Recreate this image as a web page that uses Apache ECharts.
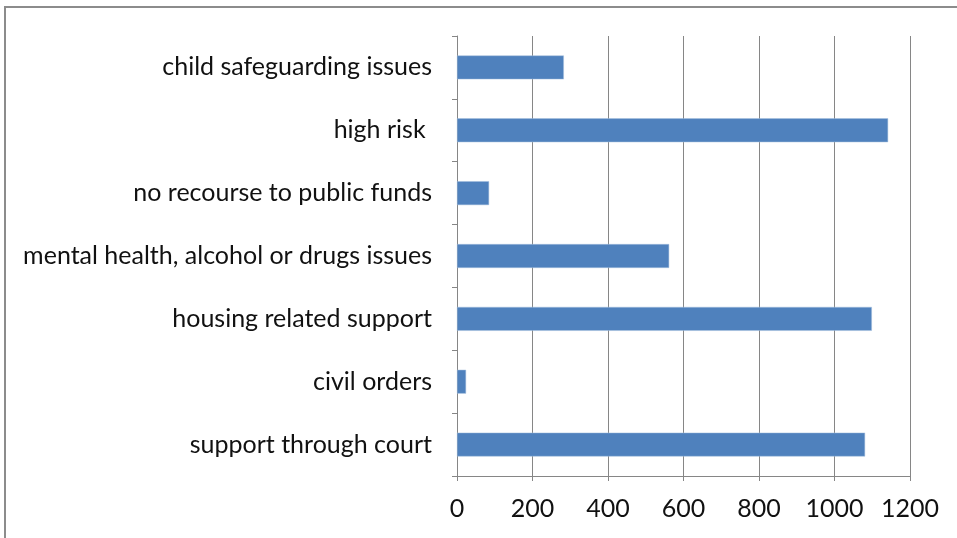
<!DOCTYPE html>
<html>
<head>
<meta charset="utf-8">
<script src="https://cdn.jsdelivr.net/npm/echarts@6/dist/echarts.min.js"></script>
<style>
html,body{margin:0;padding:0;background:#fff;}
#chart{width:957px;height:538px;}
</style>
</head>
<body>
<div id="chart"></div>
<script>
// bottom-to-top order (ECharts category axis on y starts at bottom)
var categories = [
  "support through court",
  "civil orders",
  "housing related support",
  "mental health, alcohol or drugs issues",
  "no recourse to public funds",
  "high risk ",
  "child safeguarding issues"
];
var values = [1081, 24, 1099, 562, 85, 1142, 283];
var xTicks = [0, 200, 400, 600, 800, 1000, 1200];

var chart = echarts.init(document.getElementById('chart'), null, {renderer: 'canvas'});
var font = 'Lato, "Open Sans", sans-serif';
chart.setOption({
  animation: false,
  backgroundColor: '#ffffff',
  graphic: [{
    type: 'rect',
    shape: {x: 5, y: 7, width: 1000, height: 600},
    style: {fill: 'none', stroke: '#8c8c8c', lineWidth: 2},
    silent: true
  }],
  grid: {left: 457, right: 47, top: 36, bottom: 62, containLabel: false},
  xAxis: {
    type: 'value',
    min: xTicks[0],
    max: xTicks[xTicks.length - 1],
    interval: 200,
    axisLine: {show: true, lineStyle: {color: '#868686', width: 1}},
    axisTick: {show: true, length: 5, lineStyle: {color: '#868686'}},
    splitLine: {show: true, lineStyle: {color: '#868686', width: 1}},
    axisLabel: {
      color: '#111', fontSize: 25, fontFamily: font, margin: 20,
      formatter: function (v) { return xTicks.indexOf(v) >= 0 ? String(v) : ''; }
    }
  },
  yAxis: {
    type: 'category',
    data: categories,
    axisLine: {show: true, lineStyle: {color: '#868686', width: 1}},
    axisTick: {show: true, length: 5, lineStyle: {color: '#868686'}},
    axisLabel: {color: '#111', fontSize: 25, fontFamily: font, margin: 25}
  },
  series: [{
    type: 'bar',
    data: values,
    barCategoryGap: '62%',
    itemStyle: {color: '#4F81BD', borderColor: '#A7C0DE', borderWidth: 0.5}
  }]
});
</script>
</body>
</html>
